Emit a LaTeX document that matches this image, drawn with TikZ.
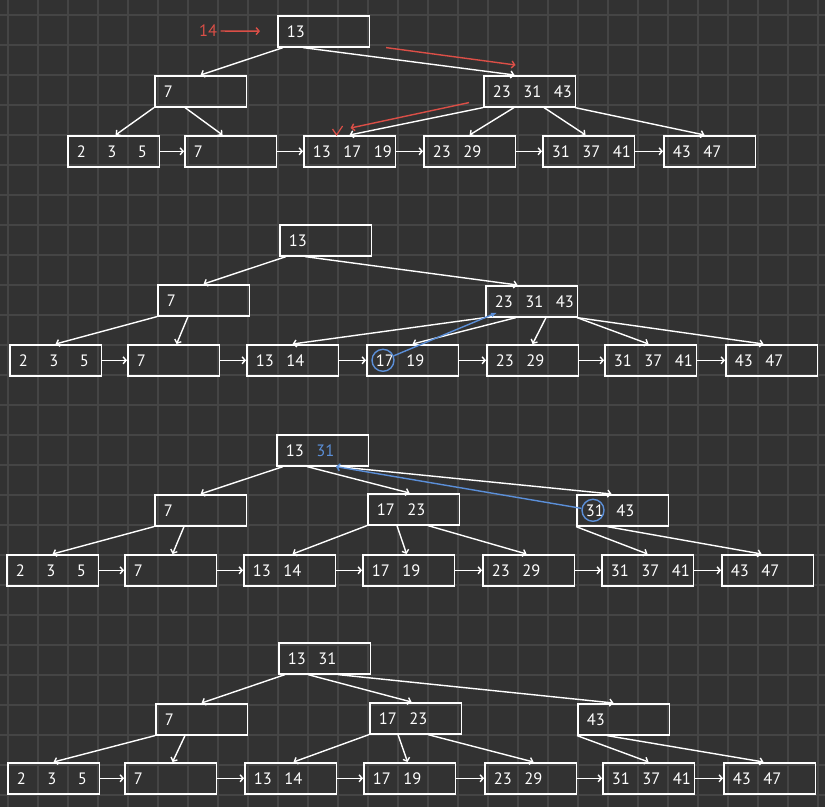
\documentclass[tikz,border=0pt]{standalone}
\usepackage{fontspec}
\setsansfont{PT Sans}
\usetikzlibrary{arrows.meta}
\definecolor{bgdark}{HTML}{323232}
\definecolor{gridgray}{HTML}{454545}
\definecolor{penred}{HTML}{DB4F47}
\definecolor{penblue}{HTML}{5B8FD8}
% three key slots of one page
\newcommand{\slotkeys}[3]{\makebox[30.5pt][l]{\hspace{9pt}#1}\makebox[30.5pt][l]{\hspace{9pt}#2}\makebox[30.5pt][l]{\hspace{9pt}#3}}

\begin{document}
\begin{tikzpicture}[x=1pt, y=-1pt,
  bpage/.style={draw=white, line width=1.6pt, rectangle, anchor=north west, minimum width=91.5pt, minimum height=31pt, inner sep=0pt, text=white, font=\sffamily\fontsize{16.5}{16.5}\selectfont},
  ptr/.style={white, line width=1.4pt, -{Straight Barb[length=3pt,width=7pt]}},
  redpen/.style={penred, line width=1.4pt, -{Straight Barb[length=3pt,width=7pt]}},
  bluepen/.style={penblue, line width=1.4pt},
  hit/.style={circle, draw=penblue, line width=1.4pt, minimum size=22pt, inner sep=0pt}]
  \useasboundingbox (0,0) rectangle (825,807);
  % dark paper with grid
  \fill[bgdark] (0,0) rectangle (825,807);
  \foreach \gx in {8,38,...,818} \draw[gridgray, line width=1.5pt] (\gx,0) -- (\gx,807);
  \foreach \gy in {15,45,...,795} \draw[gridgray, line width=1.5pt] (0,\gy) -- (825,\gy);

  % ---- step 1: search for 14
  \node[bpage] (r1) at (277,15) {\slotkeys{13}{}{}};
  \node[bpage] (a1) at (154,75) {\slotkeys{7}{}{}};
  \node[bpage] (b1) at (483,75) {\slotkeys{23}{31}{43}};
  \foreach \x/\p/\q/\s [count=\i] in {67/2/3/5, 184/7/{}/{}, 303/13/17/19, 423/23/29/{}, 542/31/37/41, 663/43/47/{}}
    \node[bpage] (l1\i) at (\x,135) {\slotkeys{\p}{\q}{\s}};
  \foreach \p/\s/\c/\e in {r1/6/a1/0, r1/26/b1/-15, a1/0/l11/2, a1/31/l12/-8, b1/0/l13/0, b1/31/l14/0, b1/61/l15/-3, b1/92/l16/-5}
    \draw[ptr] ([xshift=\s]\p.south west) -- ([xshift=\e]\c.north);
  \foreach \i/\j in {1/2,2/3,3/4,4/5,5/6} \draw[ptr] (l1\i) -- (l1\j);
  % search path in red
  \node[text=penred, font=\sffamily\fontsize{16.5}{16.5}\selectfont] (in14) at (208,31) {14};
  \draw[redpen, shorten >=17pt] (in14) -- (r1);
  \coordinate (ra1) at ([xshift=16]r1.south east);
  \coordinate (rb1) at ([xshift=-14,yshift=10]b1.north);
  \draw[redpen] (ra1) -- (rb1);
  \coordinate (ra2) at ([xshift=-14,yshift=5]b1.south west);
  \coordinate (rb2) at ([xshift=1,yshift=7]l13.north);
  \draw[redpen] (ra2) -- (rb2);
  \draw[penred, line width=1.2pt] ([xshift=-17,yshift=6]l13.north) -- ++(4,6) -- ++(6,-9);

  % ---- step 2: leaf split, 17 goes up
  \node[bpage] (r2) at (279,224) {\slotkeys{13}{}{}};
  \node[bpage] (a2) at (157,284) {\slotkeys{7}{}{}};
  \node[bpage] (b2) at (485,285) {\slotkeys{23}{31}{43}};
  \foreach \x/\p/\q/\s [count=\i] in {9/2/3/5, 127/7/{}/{}, 246/13/14/{}, 366/17/19/{}, 486/23/29/{}, 604/31/37/41, 725/43/47/{}}
    \node[bpage] (l2\i) at (\x,344) {\slotkeys{\p}{\q}{\s}};
  \foreach \p/\s/\c/\e in {r2/7/a2/0, r2/26/b2/-14, a2/0/l21/0, a2/31/l22/3, b2/0/l23/0, b2/31/l24/0, b2/61/l25/0, b2/92/l26/-2, b2/92/l27/-8}
    \draw[ptr] ([xshift=\s]\p.south west) -- ([xshift=\e]\c.north);
  \foreach \i/\j in {1/2,2/3,3/4,4/5,5/6,6/7} \draw[ptr] (l2\i) -- (l2\j);
  \node[hit] (k17) at ([xshift=17]l24.west) {};
  \coordinate (kb23) at ([xshift=12,yshift=5]b2.south west);
  \draw[bluepen, -{Latex[length=6pt,width=5pt]}] (k17) -- (kb23);

  % ---- step 3: inner split, 31 goes up
  \node[bpage] (r3) at (276,434) {\slotkeys{13}{\textcolor{penblue}{31}}{}};
  \node[bpage] (a3) at (154,494) {\slotkeys{7}{}{}};
  \node[bpage] (b3) at (367,493) {\slotkeys{17}{23}{}};
  \node[bpage] (c3) at (576,494) {\slotkeys{31}{43}{}};
  \foreach \x/\p/\q/\s [count=\i] in {6/2/3/5, 124/7/{}/{}, 243/13/14/{}, 362/17/19/{}, 482/23/29/{}, 601/31/37/41, 721/43/47/{}}
    \node[bpage] (l3\i) at (\x,554) {\slotkeys{\p}{\q}{\s}};
  \foreach \p/\s/\c/\e in {r3/7/a3/0, r3/31/b3/-4, r3/61/c3/-11, a3/0/l31/0, a3/30/l32/2, b3/0/l33/3, b3/30/l34/-2, b3/61/l35/-2, c3/0/l36/0, c3/31/l37/-6}
    \draw[ptr] ([xshift=\s]\p.south west) -- ([xshift=\e]\c.north);
  \foreach \i/\j in {1/2,2/3,3/4,4/5,5/6,6/7} \draw[ptr] (l3\i) -- (l3\j);
  \node[hit] (k31) at ([xshift=17]c3.west) {};
  \coordinate (kr31) at ([xshift=60]r3.south west);
  \draw[bluepen, -{Straight Barb[length=3pt,width=7pt]}] (k31) -- (kr31);

  % ---- step 4: final tree
  \node[bpage] (r4) at (278,642) {\slotkeys{13}{31}{}};
  \node[bpage] (a4) at (155,703) {\slotkeys{7}{}{}};
  \node[bpage] (b4) at (369,702) {\slotkeys{17}{23}{}};
  \node[bpage] (c4) at (577,703) {\slotkeys{43}{}{}};
  \foreach \x/\p/\q/\s [count=\i] in {7/2/3/5, 124/7/{}/{}, 244/13/14/{}, 363/17/19/{}, 484/23/29/{}, 602/31/37/41, 723/43/47/{}}
    \node[bpage] (l4\i) at (\x,762) {\slotkeys{\p}{\q}{\s}};
  \foreach \p/\s/\c/\e in {r4/7/a4/0, r4/30/b4/-4, r4/60/c4/-10, a4/0/l41/0, a4/30/l42/2, b4/0/l43/3, b4/29/l44/-2, b4/59/l45/3, c4/0/l46/0, c4/30/l47/-6}
    \draw[ptr] ([xshift=\s]\p.south west) -- ([xshift=\e]\c.north);
  \foreach \i/\j in {1/2,2/3,3/4,4/5,5/6,6/7} \draw[ptr] (l4\i) -- (l4\j);
\end{tikzpicture}
\end{document}
